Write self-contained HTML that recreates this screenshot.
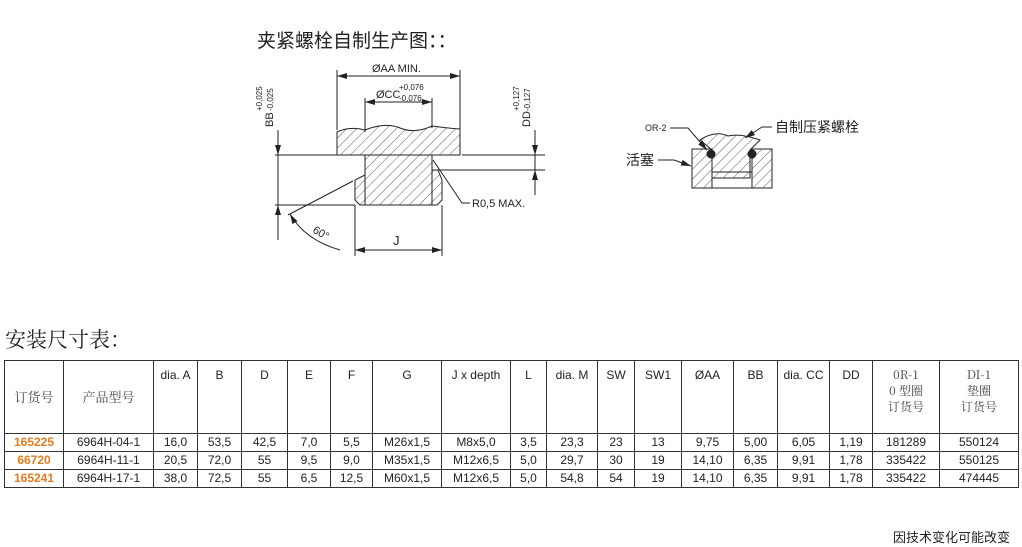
<!DOCTYPE html>
<html><head><meta charset="utf-8"><style>
body{margin:0;background:#fff;width:1022px;height:547px;position:relative;overflow:hidden;font-family:"Liberation Sans","Noto Sans CJK SC",sans-serif;color:#222}
.t{position:absolute;white-space:nowrap}
table{position:absolute;left:4px;top:360px;border-collapse:collapse;table-layout:fixed;font-size:12px}
td{border:1px solid #333;text-align:center;padding:0;height:17px;line-height:17px}
tr.h td{height:66px;vertical-align:top;line-height:16px;padding-top:6px}
.o{color:#e87a1e;font-weight:bold}
.s{font-family:"Noto Serif CJK SC",serif;color:#444}
</style></head><body>
<div class="t" style="left:257px;top:26px;font-size:19px;font-family:'Noto Sans CJK SC',sans-serif">夹紧螺栓自制生产图：：</div>
<div class="t" style="left:5px;top:324px;font-size:21px;font-family:'Noto Serif CJK SC',serif">安装尺寸表：</div>
<div class="t" style="left:893px;top:527px;font-size:13px;font-family:'Noto Sans CJK SC',sans-serif">因技术变化可能改变</div>
<svg width="1022" height="300" style="position:absolute;left:0;top:0" font-family="Liberation Sans" fill="none" stroke="#222" stroke-width="1">
<defs><pattern id="hh" width="7" height="7" patternUnits="userSpaceOnUse" patternTransform="rotate(45)"><line x1="0" y1="0" x2="0" y2="7" stroke="#333" stroke-width="0.8"/></pattern>
<marker id="a" markerWidth="10" markerHeight="6" refX="10" refY="3" orient="auto-start-reverse"><path d="M0,0L10,3L0,6z" fill="#222" stroke="none"/></marker></defs>
<!-- top plate -->
<path d="M337,155 L337,132 Q350,126 365,130 Q385,122 400,128 Q415,134 432,126 Q446,128 460,129 L460,155 L432,155 L365,155 Z" fill="url(#hh)"/>
<!-- bolt -->
<path d="M365,155 L432,155 L432,205 L365,205 Z" fill="url(#hh)"/>
<path d="M432,155 L432,170 L438,170 L442,180 L442,200 L437,205 L432,205 Z" fill="url(#hh)"/>
<path d="M365,175 L355,180 L355,200 L360,205 L365,205 Z" fill="url(#hh)"/>
<line x1="275" y1="155" x2="337" y2="155"/><line x1="462" y1="155" x2="545" y2="155"/>
<line x1="438" y1="170" x2="545" y2="170"/>
<line x1="275" y1="205" x2="355" y2="205"/>
<!-- AA -->
<line x1="337" y1="70" x2="337" y2="130"/><line x1="460" y1="70" x2="460" y2="130"/>
<line x1="337" y1="76" x2="460" y2="76" marker-start="url(#a)" marker-end="url(#a)"/>
<text x="372" y="72" font-size="11" fill="#222" stroke="none">ØAA  MIN.</text>
<line x1="365" y1="98" x2="365" y2="132"/><line x1="432" y1="98" x2="432" y2="128"/>
<line x1="365" y1="102" x2="432" y2="102" marker-start="url(#a)" marker-end="url(#a)"/>
<text x="376" y="98" font-size="11" fill="#222" stroke="none">ØCC</text>
<text x="399" y="90" font-size="8" fill="#222" stroke="none">+0,076</text>
<text x="399" y="101" font-size="8" fill="#222" stroke="none">-0,076</text>
<!-- BB -->
<line x1="278" y1="130" x2="278" y2="240"/>
<line x1="278" y1="140" x2="278" y2="155" marker-end="url(#a)"/><line x1="278" y1="220" x2="278" y2="205" marker-end="url(#a)"/>
<text transform="translate(273,127) rotate(-90)" font-size="11" fill="#222" stroke="none">BB</text>
<text transform="translate(262,111) rotate(-90)" font-size="8" fill="#222" stroke="none">+0,025</text>
<text transform="translate(273,111) rotate(-90)" font-size="8" fill="#222" stroke="none">-0,025</text>
<!-- DD -->
<line x1="535" y1="130" x2="535" y2="195"/>
<line x1="535" y1="140" x2="535" y2="155" marker-end="url(#a)"/><line x1="535" y1="185" x2="535" y2="170" marker-end="url(#a)"/>
<text transform="translate(530,127) rotate(-90)" font-size="11" fill="#222" stroke="none">DD</text>
<text transform="translate(519,111) rotate(-90)" font-size="8" fill="#222" stroke="none">+0,127</text>
<text transform="translate(530,111) rotate(-90)" font-size="8" fill="#222" stroke="none">-0,127</text>
<!-- 60 -->
<line x1="353" y1="181" x2="288" y2="215"/>
<path d="M290,214 Q305,240 340,250" marker-start="url(#a)"/>
<text transform="translate(312,232) rotate(30)" font-size="11" fill="#222" stroke="none">60°</text>
<!-- J -->
<line x1="355" y1="205" x2="355" y2="256"/><line x1="442" y1="205" x2="442" y2="256"/>
<line x1="355" y1="250" x2="442" y2="250" marker-start="url(#a)" marker-end="url(#a)"/>
<text x="393" y="245" font-size="13" fill="#222" stroke="none">J</text>
<!-- R -->
<polyline points="433,160 462,203 470,203"/>
<text x="472" y="207" font-size="11" fill="#222" stroke="none">R0,5 MAX.</text>
<!-- small figure -->
<path d="M692,149 L712,149 L712,188 L692,188 Z" fill="url(#hh)"/>
<path d="M752,149 L772,149 L772,188 L752,188 Z" fill="url(#hh)"/>
<path d="M712,188 L752,188 L752,172 L712,172 Z"/>
<path d="M700,140 L712,150 L712,178 L750,178 L750,150 L760,140 Q740,133 728,136 Q715,130 700,140 Z" fill="url(#hh)"/>
<circle cx="711" cy="154" r="4" fill="#222"/><circle cx="752" cy="154" r="4" fill="#222"/>
<polyline points="670,128 688,128 707,150" marker-end="url(#a)"/>
<polyline points="772,127 762,127 745,138" marker-end="url(#a)"/>
<polyline points="658,160 674,160 691,166" marker-end="url(#a)"/>
<text x="645" y="131" font-size="9" fill="#222" stroke="none">OR-2</text>
<text x="775" y="132" font-size="14" fill="#222" stroke="none" font-family="Noto Sans CJK SC">自制压紧螺栓</text>
<text x="626" y="165" font-size="14" fill="#222" stroke="none" font-family="Noto Sans CJK SC">活塞</text>
</svg>
<table>
<colgroup><col style="width:59px"><col style="width:90px"><col style="width:44px"><col style="width:44px"><col style="width:46px"><col style="width:43px"><col style="width:42px"><col style="width:69px"><col style="width:69px"><col style="width:36px"><col style="width:51px"><col style="width:37px"><col style="width:47px"><col style="width:52px"><col style="width:44px"><col style="width:52px"><col style="width:43px"><col style="width:67px"><col style="width:79px"></colgroup>
<tr class="h"><td class="s" style="vertical-align:middle;padding:0;font-size:13px">订货号</td><td class="s" style="vertical-align:middle;padding:0;font-size:13px">产品型号</td><td>dia. A</td><td>B</td><td>D</td><td>E</td><td>F</td><td>G</td><td>J x depth</td><td>L</td><td>dia. M</td><td>SW</td><td>SW1</td><td>ØAA</td><td>BB</td><td>dia. CC</td><td>DD</td><td class="s" style="font-size:12px">0R-1<br>0 型圈<br>订货号</td><td class="s" style="font-size:12px">DI-1<br>垫圈<br>订货号</td></tr>
<tr><td class="o">165225</td><td>6964H-04-1</td><td>16,0</td><td>53,5</td><td>42,5</td><td>7,0</td><td>5,5</td><td>M26x1,5</td><td>M8x5,0</td><td>3,5</td><td>23,3</td><td>23</td><td>13</td><td>9,75</td><td>5,00</td><td>6,05</td><td>1,19</td><td>181289</td><td>550124</td></tr>
<tr><td class="o">66720</td><td>6964H-11-1</td><td>20,5</td><td>72,0</td><td>55</td><td>9,5</td><td>9,0</td><td>M35x1,5</td><td>M12x6,5</td><td>5,0</td><td>29,7</td><td>30</td><td>19</td><td>14,10</td><td>6,35</td><td>9,91</td><td>1,78</td><td>335422</td><td>550125</td></tr>
<tr><td class="o">165241</td><td>6964H-17-1</td><td>38,0</td><td>72,5</td><td>55</td><td>6,5</td><td>12,5</td><td>M60x1,5</td><td>M12x6,5</td><td>5,0</td><td>54,8</td><td>54</td><td>19</td><td>14,10</td><td>6,35</td><td>9,91</td><td>1,78</td><td>335422</td><td>474445</td></tr>
</table>
</body></html>
